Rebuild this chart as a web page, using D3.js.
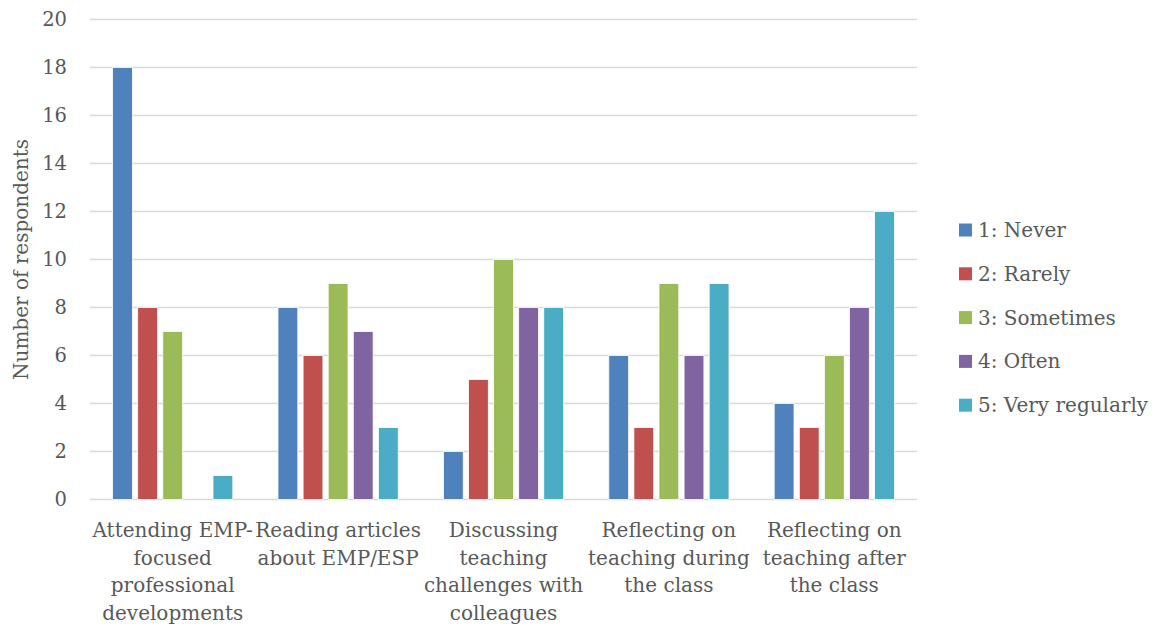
<!DOCTYPE html>
<html><head><meta charset="utf-8">
<script src="https://cdn.jsdelivr.net/npm/d3@7"></script>
<style>body{margin:0;background:#fff}svg{display:block}</style>
</head><body><svg id="c" width="1158" height="627"></svg>
<script>
const categories = [
  "Attending EMP-focused professional developments",
  "Reading articles about EMP/ESP",
  "Discussing teaching challenges with colleagues",
  "Reflecting on teaching during the class",
  "Reflecting on teaching after the class"
];
const categoryLines = [
  ["Attending EMP-", "focused", "professional", "developments"],
  ["Reading articles", "about EMP/ESP"],
  ["Discussing", "teaching", "challenges with", "colleagues"],
  ["Reflecting on", "teaching during", "the class"],
  ["Reflecting on", "teaching after", "the class"]
];
const seriesNames = ["1: Never", "2: Rarely", "3: Sometimes", "4: Often", "5: Very regularly"];
const never = [18, 8, 2, 6, 4];
const rarely = [8, 6, 5, 3, 3];
const sometimes = [7, 9, 10, 9, 6];
const often = [0, 7, 8, 6, 8];
const veryRegularly = [1, 3, 8, 9, 12];
const yTicks = [0, 2, 4, 6, 8, 10, 12, 14, 16, 18, 20];
const colors = ["#4F81BD", "#C0504D", "#9BBB59", "#8064A2", "#4BACC6"];

const series = [never, rarely, sometimes, often, veryRegularly];
const font = "'DejaVu Serif', serif";
const textColor = "#595959";

const svg = d3.select("#c");
const m = {left: 90, right: 917, top: 19.5, bottom: 499.5};

const x0 = d3.scaleBand().domain(d3.range(categories.length)).range([m.left, m.right]).paddingInner(0).paddingOuter(0);
const x1 = d3.scaleBand().domain(d3.range(series.length)).range([0, x0.bandwidth()]).paddingInner(0.21).paddingOuter(0.9);
const y = d3.scaleLinear().domain([0, 20]).range([m.bottom, m.top]);

// gridlines
svg.append("g").selectAll("line").data(yTicks).join("line")
  .attr("x1", m.left).attr("x2", m.right)
  .attr("y1", d => y(d)).attr("y2", d => y(d))
  .attr("stroke", "#D9D9D9").attr("stroke-width", 1.5);

// y axis labels
const yAxis = d3.axisLeft(y).tickValues(yTicks).tickSize(0).tickPadding(0);
const ya = svg.append("g").attr("transform", `translate(${m.left - 23},0)`).call(yAxis);
ya.select(".domain").remove();
ya.selectAll("text").attr("font-family", font).attr("font-size", 19.5).attr("fill", textColor).attr("text-anchor", "end");

// bars
const groups = svg.append("g").selectAll("g").data(categories).join("g")
  .attr("transform", (d, i) => `translate(${x0(i)},0)`);
groups.selectAll("rect").data((d, i) => series.map((s, j) => ({j, v: s[i]}))).join("rect")
  .filter(d => d.v > 0)
  .attr("x", d => x1(d.j)).attr("width", x1.bandwidth())
  .attr("y", d => y(d.v)).attr("height", d => y(0) - y(d.v))
  .attr("fill", d => colors[d.j]).attr("stroke", "#fff").attr("stroke-width", 0.8);

// category labels
const xl = svg.append("g");
categoryLines.forEach((lines, i) => {
  const t = xl.append("text").attr("font-family", font).attr("font-size", 20)
    .attr("fill", textColor).attr("text-anchor", "middle");
  lines.forEach((ln, k) => {
    t.append("tspan").attr("x", x0(i) + x0.bandwidth() / 2).attr("y", 537 + k * 27.6).text(ln);
  });
});

// y axis title
svg.append("text").attr("transform", `translate(28,${(m.top + m.bottom) / 2}) rotate(-90)`)
  .attr("text-anchor", "middle").attr("font-family", font).attr("font-size", 20)
  .attr("fill", textColor).text("Number of respondents");

// legend
const lg = svg.append("g").selectAll("g").data(seriesNames).join("g")
  .attr("transform", (d, i) => `translate(959,${230 + i * 43.8})`);
lg.append("rect").attr("x", 0).attr("y", -6.5).attr("width", 13).attr("height", 13)
  .attr("fill", (d, i) => colors[i]);
lg.append("text").attr("x", 19).attr("y", 7).attr("font-family", font).attr("font-size", 20)
  .attr("fill", textColor).text(d => d);
</script></body></html>
